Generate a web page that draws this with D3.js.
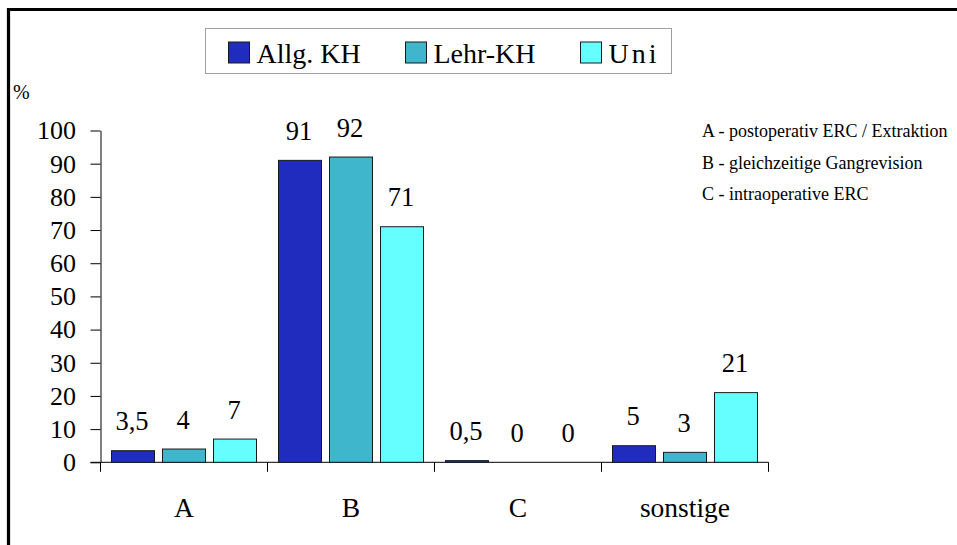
<!DOCTYPE html>
<html>
<head>
<meta charset="utf-8">
<script src="https://cdn.jsdelivr.net/npm/d3@7"></script>
<style>
  html, body { margin: 0; padding: 0; background: #fff; }
  svg { display: block; }
  svg text { font-family: "Liberation Serif", "Times New Roman", Times, Tinos, serif; fill: #000; }
</style>
</head>
<body>
<svg id="chart" width="957" height="545"></svg>
<script>
// Categories and series
const categories = ["A", "B", "C", "sonstige"];
const seriesNames = ["Allg. KH", "Lehr-KH", "Uni"];
const allgKH = [3.5, 91, 0.5, 5];
const lehrKH = [4, 92, 0, 3];
const uni = [7, 71, 0, 21];
const seriesValues = [allgKH, lehrKH, uni];
const seriesColors = ["#202CBE", "#3FB6CC", "#66FFFF"];
const yTicks = [0, 10, 20, 30, 40, 50, 60, 70, 80, 90, 100];
const notes = [
  "A - postoperativ ERC / Extraktion",
  "B - gleichzeitige Gangrevision",
  "C - intraoperative ERC"
];

const serif = "'Liberation Serif', 'Times New Roman', Times, Tinos, serif";
const svg = d3.select("#chart");
const locale = d3.formatLocale({ decimal: ",", thousands: ".", grouping: [3], currency: ["", " €"] });
const fmt = locale.format("~g");

// Outer frame (left and top edges)
svg.append("line").attr("x1", 8.5).attr("x2", 8.5).attr("y1", 8).attr("y2", 545)
  .attr("stroke", "#000").attr("stroke-width", 3.2);
svg.append("line").attr("x1", 7).attr("x2", 957).attr("y1", 9.5).attr("y2", 9.5)
  .attr("stroke", "#000").attr("stroke-width", 3.2);

// Scales
const x0 = d3.scaleBand().domain(categories).range([100.5, 768.5]).padding(0);
const x1 = d3.scaleBand().domain(seriesNames).range([11, 156]).paddingInner(8 / 51).paddingOuter(0);
const y = d3.scaleLinear().domain([0, 100]).range([462.3, 130.5]);

// Y axis
const yAxis = svg.append("g").attr("transform", "translate(100.5,0)")
  .call(d3.axisLeft(y).tickValues(yTicks).tickSize(10).tickPadding(14.5).tickSizeOuter(0));
yAxis.attr("font-family", serif).attr("font-size", 26);
yAxis.select(".domain").attr("stroke", "#000");
yAxis.selectAll(".tick line").attr("stroke", "#000");
yAxis.selectAll(".tick text").style("font-family", serif).attr("font-size", 26);

// X axis line with category separators
const xAxis = svg.append("g").attr("transform", `translate(0,${y(0)})`)
  .call(d3.axisBottom(x0).tickSize(0).tickFormat(""));
xAxis.select(".domain").remove();
xAxis.append("line").attr("x1", 90.5).attr("x2", x0.range()[1]).attr("y1", 0).attr("y2", 0).attr("stroke", "#000");
const bounds = categories.map(c => x0(c)).concat([x0(categories[categories.length - 1]) + x0.bandwidth()]);
xAxis.selectAll("line.sep").data(bounds).join("line").attr("class", "sep")
  .attr("x1", d => d).attr("x2", d => d).attr("y1", 0).attr("y2", 9.5).attr("stroke", "#000");

// Category labels
svg.append("g").selectAll("text").data(categories).join("text")
  .attr("x", d => x0(d) + x0.bandwidth() / 2)
  .attr("y", 516.5)
  .attr("text-anchor", "middle")
  .attr("font-size", 27.5)
  .style("font-family", serif)
  .text(d => d);

// Bars
const rows = [];
categories.forEach((c, i) => seriesNames.forEach((s, j) => rows.push({ c, s, v: seriesValues[j][i], color: seriesColors[j] })));

const groups = svg.append("g");
groups.selectAll("rect").data(rows).join("rect")
  .attr("x", d => x0(d.c) + x1(d.s))
  .attr("y", d => y(d.v))
  .attr("width", x1.bandwidth())
  .attr("height", d => y(0) - y(d.v))
  .attr("fill", d => d.color)
  .attr("stroke", "#1a1a1a")
  .attr("stroke-width", 1);

// Value labels
groups.selectAll("text").data(rows).join("text")
  .attr("x", d => x0(d.c) + x1(d.s) + x1.bandwidth() / 2 - 1)
  .attr("y", d => y(d.v) - 20.5)
  .attr("text-anchor", "middle")
  .attr("font-size", 26.5)
  .style("font-family", serif)
  .text(d => fmt(d.v));

// Unit label
svg.append("text").attr("x", 13).attr("y", 99).attr("font-size", 20).style("font-family", serif).text("%");

// Legend
const legend = svg.append("g");
legend.append("rect").attr("x", 205.5).attr("y", 28.5).attr("width", 466).attr("height", 45)
  .attr("fill", "#fff").attr("stroke", "#a0a0a0").attr("stroke-width", 1);
const legendX = [228.5, 405.5, 580.5];
const legendItems = seriesNames.map((name, i) => ({ name, color: seriesColors[i], x: legendX[i] }));
const li = legend.selectAll("g.item").data(legendItems).join("g").attr("class", "item")
  .attr("transform", d => `translate(${d.x},42)`);
li.append("rect").attr("width", 21).attr("height", 21)
  .attr("fill", d => d.color).attr("stroke", "#1a1a1a").attr("stroke-width", 1);
li.append("text").attr("x", 28).attr("y", 21).attr("font-size", 28)
  .style("font-family", serif)
  .attr("letter-spacing", d => d.name === "Uni" ? 3 : 0)
  .text(d => d.name);

// Category notes
svg.append("g").selectAll("text").data(notes).join("text")
  .attr("x", 702)
  .attr("y", (d, i) => 137 + i * 31.5)
  .attr("font-size", 18)
  .style("font-family", serif)
  .text(d => d);
</script>
</body>
</html>
